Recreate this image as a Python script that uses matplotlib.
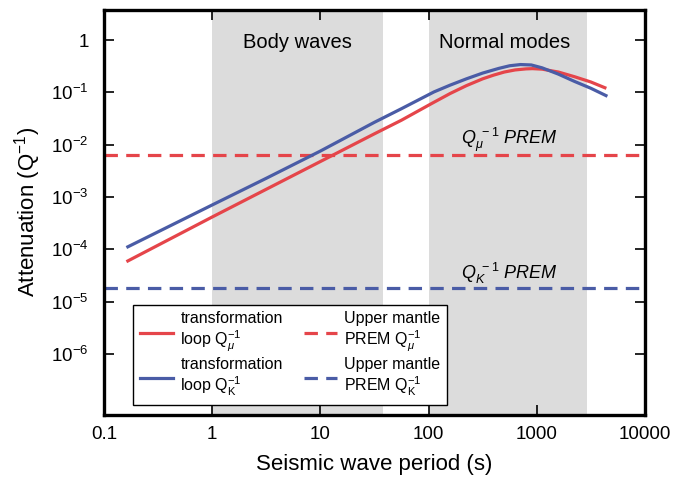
import numpy as np
import matplotlib
matplotlib.use('Agg')
import matplotlib.pyplot as plt
from matplotlib.ticker import FixedLocator, FuncFormatter, NullLocator

plt.rcParams['font.family'] = ['Liberation Sans', 'DejaVu Sans']
plt.rcParams['mathtext.fontset'] = 'custom'
plt.rcParams['mathtext.rm'] = 'Liberation Sans'
plt.rcParams['mathtext.it'] = 'Liberation Sans:italic'
plt.rcParams['mathtext.bf'] = 'Liberation Sans:bold'

## ::: Data (log10 values) ::: ##
# -> transformation loop Q_mu^-1
mu_log_period = [-0.78, 0.0, 0.5, 1.0, 1.5, 1.75, 2.03, 2.2, 2.35, 2.5, 2.6, 2.7, 2.8, 2.9, 2.96,
                 3.05, 3.2, 3.35, 3.5, 3.63]
mu_log_q = [-4.22, -3.38, -2.85, -2.32, -1.79, -1.53, -1.21, -1.02, -0.87, -0.74, -0.67, -0.61,
            -0.57, -0.55, -0.545, -0.555, -0.61, -0.70, -0.80, -0.91]
# -> transformation loop Q_K^-1
k_log_period = [-0.78, 0.0, 0.5, 1.0, 1.5, 1.75, 1.9, 2.05, 2.2, 2.35, 2.5, 2.65, 2.75, 2.85, 2.95,
                3.05, 3.2, 3.35, 3.5, 3.64]
k_log_q = [-3.95, -3.15, -2.64, -2.12, -1.57, -1.31, -1.15, -0.99, -0.86, -0.74, -0.63, -0.54,
           -0.49, -0.467, -0.475, -0.53, -0.65, -0.79, -0.92, -1.06]

# -> PREM upper mantle values
prem_q_mu = 6.3e-3
prem_q_k = 1.8e-5

# -> period bands (s)
body_band = [1, 38]
normal_band = [100, 2900]

x_ticks = [0.1, 1, 10, 100, 1000, 10000]
x_tick_labels = ['0.1', '1', '10', '100', '1000', '10000']
y_ticks = [1e-6, 1e-5, 1e-4, 1e-3, 1e-2, 1e-1, 1]

red = '#E5454A'
blue = '#4A5CA6'
dash = (0, (4.2, 2.6))

## ::: Figure ::: ##
fig = plt.figure(figsize=(6.89, 4.88), dpi=100)
ax = fig.add_axes([0.151, 0.150, 0.785, 0.830])

ax.axvspan(body_band[0], body_band[1], color='#dcdcdc', lw=0, zorder=0)
ax.axvspan(normal_band[0], normal_band[1], color='#dcdcdc', lw=0, zorder=0)

ax.plot(10**np.array(mu_log_period), 10**np.array(mu_log_q), color=red, lw=2.3,
        label='transformation\nloop Q$_{\\mu}^{-1}$', zorder=3)
ax.plot(10**np.array(k_log_period), 10**np.array(k_log_q), color=blue, lw=2.3,
        label='transformation\nloop Q$_{\\mathrm{K}}^{-1}$', zorder=3)
ax.axhline(prem_q_mu, color=red, lw=2.3, ls=dash,
           label='Upper mantle\nPREM Q$_{\\mu}^{-1}$', zorder=2)
ax.axhline(prem_q_k, color=blue, lw=2.3, ls=dash,
           label='Upper mantle\nPREM Q$_{\\mathrm{K}}^{-1}$', zorder=2)

ax.set_xscale('log')
ax.set_yscale('log')
ax.set_xlim(0.1, 10000)
ax.set_ylim(10**-7.16, 10**0.58)

ax.xaxis.set_major_locator(FixedLocator(x_ticks))
ax.xaxis.set_minor_locator(NullLocator())
ax.set_xticklabels(x_tick_labels)
ax.yaxis.set_major_locator(FixedLocator(y_ticks))
ax.yaxis.set_minor_locator(NullLocator())
ax.yaxis.set_major_formatter(FuncFormatter(
    lambda v, p: '1' if v >= 1 else '10$^{%d}$' % round(np.log10(v))))

ax.tick_params(direction='in', length=7, width=1.2, top=True, right=True,
               labelsize=13.5, pad=8)
ax.tick_params(axis='y', pad=11)
for s in ax.spines.values():
    s.set_linewidth(2.4)

ax.set_xlabel('Seismic wave period (s)', fontsize=16, labelpad=8)
ax.set_ylabel('Attenuation (Q$^{-1}$)', fontsize=16, labelpad=6)

ax.text(6.2, 10**-0.05, 'Body waves', fontsize=14.5, ha='center', va='center')
ax.text(500, 10**-0.05, 'Normal modes', fontsize=14.5, ha='center', va='center')
ax.text(560, 10**-1.9, '$Q_{\\mu}^{\\ -1}$ PREM', fontsize=13, style='italic',
        ha='center', va='center')
ax.text(560, 10**-4.45, '$Q_{K}^{\\ -1}$ PREM', fontsize=13, style='italic',
        ha='center', va='center')

leg = ax.legend(loc='upper left', bbox_to_anchor=(0.054, 0.272), ncol=2,
                fontsize=11.5, frameon=True, fancybox=False, edgecolor='black',
                framealpha=1, handlelength=2.1, handletextpad=0.45,
                columnspacing=1.3, labelspacing=0.15, borderpad=0.4,
                borderaxespad=0)
leg.get_frame().set_linewidth(1.0)

fig.savefig('out.png', dpi=100)
